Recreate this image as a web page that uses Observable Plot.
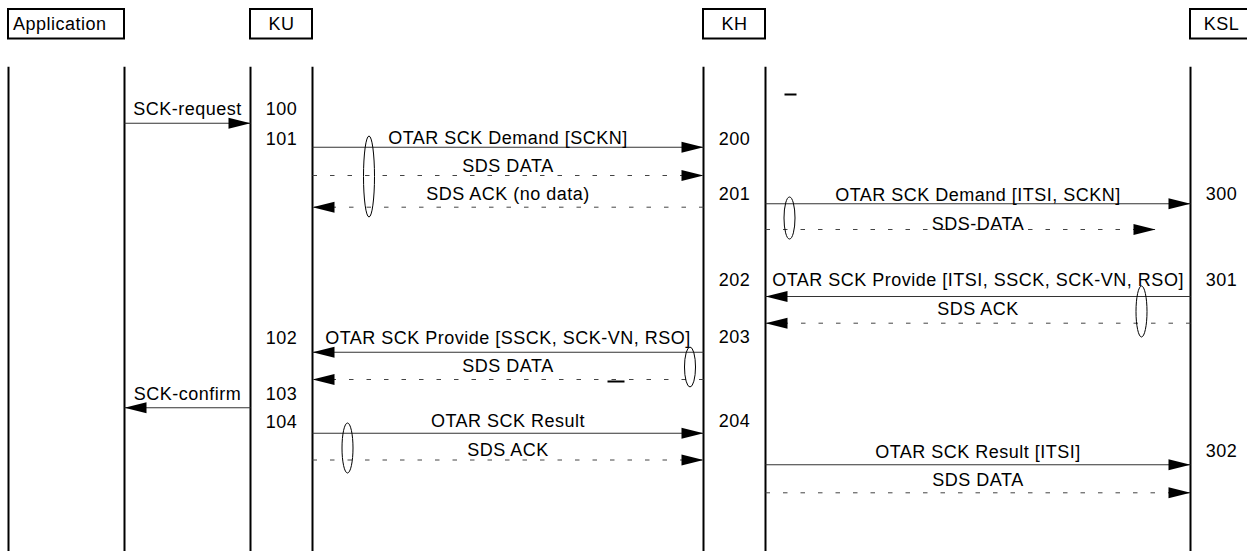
<!DOCTYPE html>
<html>
<head>
<meta charset="utf-8">
<script src="https://cdn.jsdelivr.net/npm/d3@7"></script>
<script src="https://cdn.jsdelivr.net/npm/@observablehq/plot@0.6"></script>
<style>
  html, body { margin: 0; padding: 0; background: #fff; }
  #chart svg { display: block; }
  #chart text { letter-spacing: 0.5px; }
</style>
</head>
<body>
<div id="chart"></div>
<script>
// ---- Participants (lanes, in diagram units) ----
const participants = ["Application", "KU", "KH", "KSL"];
const laneLeft  = [8, 250, 703, 1190];
const laneRight = [124, 312, 765, 1252];
const boxTop = 9, boxBottom = 38.5;
const lifelineTop = 66.7, lifelineBottom = 551;

// ---- Messages ----
const msgText = [
  "SCK-request",
  "OTAR SCK Demand [SCKN]",
  "SDS DATA",
  "SDS ACK (no data)",
  "OTAR SCK Demand [ITSI, SCKN]",
  "SDS-DATA",
  "OTAR SCK Provide [ITSI, SSCK, SCK-VN, RSO]",
  "SDS ACK",
  "OTAR SCK Provide [SSCK, SCK-VN, RSO]",
  "SDS DATA",
  "SCK-confirm",
  "OTAR SCK Result",
  "SDS ACK",
  "OTAR SCK Result [ITSI]",
  "SDS DATA"
];
const msgFrom = ["Application","KU","KU","KH","KH","KH","KSL","KSL","KH","KH","KU","KU","KU","KH","KH"];
const msgTo   = ["KU","KH","KH","KU","KSL","KSL","KH","KH","KU","KU","Application","KH","KH","KSL","KSL"];
const msgDashed = [false,false,true,true,false,true,false,true,false,true,false,false,true,false,true];
const msgLineY  = [122.7,146.7,175,206.7,203.3,229,296,322.7,351.7,379,407.3,432.7,459.5,464.3,492.3];
const msgLabelY = [108.5,138,166,193.5,194.5,224,280,309,337.5,366,393.5,421,449.5,451.5,480];
const msgShort  = [0,0,0,0,0,35,0,0,0,0,0,0,0,0,0];

// ---- Step numbers ----
const stepText = ["100","101","102","103","104","200","201","202","203","204","300","301","302"];
const stepLane = ["KU","KU","KU","KU","KU","KH","KH","KH","KH","KH","KSL","KSL","KSL"];
const stepY    = [109,138.7,337.5,393.5,421.5,138.5,194,280,336.5,421,193.5,280,451];

// ---- Ellipses (grouping marks) ----
const ellipseX  = [369, 789.5, 1141.5, 690, 347.5];
const ellipseY1 = [136, 197, 286, 347, 423];
const ellipseY2 = [217, 239, 337, 387, 473];

// ---- Stray marks ----
const strayX1 = [784, 607];
const strayX2 = [796, 624];
const strayY  = [94, 381];

// ---- Build tables ----
const lane = name => participants.indexOf(name);
const boxes = participants.map((p, i) => ({name: p, x1: laneLeft[i], x2: laneRight[i], cx: (laneLeft[i] + laneRight[i]) / 2}));
const lifelines = [];
participants.forEach((p, i) => { lifelines.push(laneLeft[i]); if (laneRight[i] < 1247) lifelines.push(laneRight[i]); });

const msgs = msgText.map((t, i) => {
  const a = lane(msgFrom[i]), b = lane(msgTo[i]);
  const dir = b > a ? 1 : -1;
  const x1 = dir > 0 ? laneRight[a] : laneLeft[a];
  const edge = dir > 0 ? laneLeft[b] : laneRight[b];
  const x2 = edge - dir * msgShort[i];
  return {text: t, x1, x2, dir, y: msgLineY[i], ly: msgLabelY[i], lx: (x1 + edge) / 2, dashed: msgDashed[i]};
});
const steps = stepText.map((t, i) => {
  const k = lane(stepLane[i]);
  return {text: t, x: (laneLeft[k] + laneRight[k]) / 2, y: stepY[i]};
});
const ellipses = ellipseX.map((x, i) => ({x, y1: ellipseY1[i], y2: ellipseY2[i]}));
const strays = strayX1.map((x, i) => ({x1: x, x2: strayX2[i], y: strayY[i]}));

const arrowHead = {
  draw(ctx) {
    ctx.moveTo(0, 0);
    ctx.lineTo(-22, -5.5);
    ctx.lineTo(-22, 5.5);
    ctx.closePath();
  }
};

function ellipseMark(index, scales) {
  const g = d3.create("svg:g").attr("fill", "none").attr("stroke", "#000").attr("stroke-width", 1);
  for (const e of ellipses) {
    const cx = scales.x(e.x), y1 = scales.y(e.y1), y2 = scales.y(e.y2);
    g.append("ellipse")
      .attr("cx", cx).attr("cy", (y1 + y2) / 2)
      .attr("rx", 5.5).attr("ry", Math.abs(y2 - y1) / 2);
  }
  return g.node();
}

const font = "'Liberation Sans', Arial, Helvetica, sans-serif";

const chart = Plot.plot({
  width: 1247,
  height: 551,
  margin: 0,
  style: {fontFamily: font, background: "#fff", color: "#000"},
  x: {domain: [0, 1247], range: [0, 1247], axis: null},
  y: {domain: [0, 551], range: [0, 551], axis: null},
  marks: [
    // participant boxes
    Plot.rect(boxes, {x1: "x1", x2: "x2", y1: boxTop, y2: boxBottom, fill: "none", stroke: "#000", strokeWidth: 2}),
    Plot.text(boxes.filter(b => b.name === "Application"), {x: d => d.x1 + 4.5, y: (boxTop + boxBottom) / 2, text: "name", textAnchor: "start", fontSize: 18, fill: "#000"}),
    Plot.text(boxes.filter(b => b.name !== "Application"), {x: "cx", y: (boxTop + boxBottom) / 2, text: "name", fontSize: 18, fill: "#000"}),
    // lifelines
    Plot.ruleX(lifelines, {y1: lifelineTop, y2: lifelineBottom, stroke: "#000", strokeWidth: 2}),
    // messages
    Plot.link(msgs.filter(d => !d.dashed), {x1: "x1", x2: "x2", y1: "y", y2: "y", stroke: "#333", strokeWidth: 1.1}),
    Plot.link(msgs.filter(d => d.dashed), {x1: "x1", x2: "x2", y1: "y", y2: "y", stroke: "#444", strokeWidth: 1, strokeDasharray: "4.5 13"}),
    Plot.dot(msgs, {x: "x2", y: "y", symbol: arrowHead, rotate: d => d.dir > 0 ? 0 : 180, fill: "#000", stroke: "none", r: 5}),
    Plot.text(msgs, {x: "lx", y: "ly", text: "text", fontSize: 18, fill: "#000"}),
    // step numbers
    Plot.text(steps, {x: "x", y: "y", text: "text", fontSize: 18, fill: "#000"}),
    // grouping ellipses
    ellipseMark,
    // stray marks
    Plot.link(strays, {x1: "x1", x2: "x2", y1: "y", y2: "y", stroke: "#000", strokeWidth: 2})
  ]
});

document.getElementById("chart").appendChild(chart);
</script>
</body>
</html>
